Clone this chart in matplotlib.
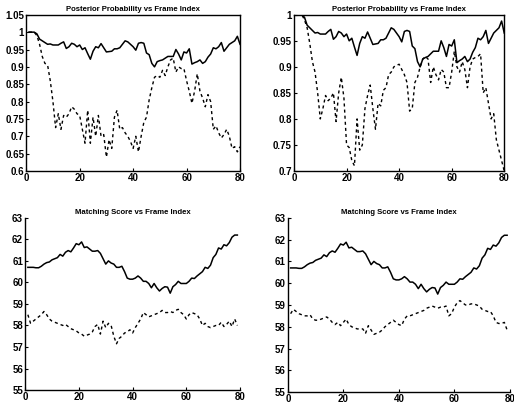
import numpy as np
import matplotlib.pyplot as plt
from matplotlib.ticker import FormatStrFormatter

plt.rcParams['font.family'] = ['Liberation Sans', 'DejaVu Sans']

frames_top = np.arange(1, 81)
frames_bottom = np.arange(1, 80)

post_solid = [1.0, 1.0, 1.0, 0.995, 0.98, 0.975, 0.97, 0.965, 0.966, 0.963,
              0.963, 0.963, 0.968, 0.972, 0.953, 0.958, 0.968, 0.965, 0.958, 0.963,
              0.95, 0.955, 0.938, 0.922, 0.945, 0.958, 0.955, 0.967, 0.955, 0.943,
              0.944, 0.945, 0.952, 0.952, 0.955, 0.965, 0.975, 0.972, 0.965, 0.958,
              0.948, 0.968, 0.97, 0.968, 0.94, 0.935, 0.91, 0.9, 0.915, 0.918,
              0.92, 0.925, 0.93, 0.93, 0.93, 0.95, 0.937, 0.92, 0.943, 0.94,
              0.952, 0.908, 0.912, 0.915, 0.92, 0.91, 0.915, 0.928, 0.937, 0.955,
              0.952, 0.958, 0.97, 0.945, 0.955, 0.965, 0.97, 0.975, 0.988, 0.965]

post_dash_left = [1.0, 1.0, 1.0, 0.99, 0.965, 0.93, 0.91, 0.905, 0.86, 0.8,
                  0.725, 0.765, 0.72, 0.76, 0.755, 0.765, 0.785, 0.778, 0.765, 0.76,
                  0.72, 0.68, 0.775, 0.68, 0.755, 0.7, 0.76, 0.7, 0.705, 0.64,
                  0.69, 0.665, 0.755, 0.775, 0.72, 0.725, 0.71, 0.7, 0.685, 0.665,
                  0.7, 0.655, 0.7, 0.74, 0.755, 0.805, 0.84, 0.87, 0.875, 0.87,
                  0.89, 0.875, 0.9, 0.92, 0.925, 0.885, 0.9, 0.895, 0.895, 0.86,
                  0.83, 0.795, 0.83, 0.88, 0.83, 0.81, 0.785, 0.82, 0.8, 0.72,
                  0.73, 0.71, 0.695, 0.705, 0.72, 0.7, 0.665, 0.67, 0.655, 0.67]

post_dash_right = [1.0, 1.0, 1.0, 0.99, 0.975, 0.945, 0.91, 0.89, 0.85, 0.8,
                   0.82, 0.845, 0.835, 0.84, 0.85, 0.795, 0.85, 0.88, 0.84, 0.75,
                   0.745, 0.72, 0.71, 0.8, 0.74, 0.75, 0.82, 0.845, 0.865, 0.82,
                   0.78, 0.83, 0.825, 0.855, 0.86, 0.885, 0.89, 0.9, 0.903, 0.905,
                   0.895, 0.885, 0.87, 0.815, 0.82, 0.87, 0.88, 0.9, 0.915, 0.92,
                   0.915, 0.87, 0.9, 0.885, 0.875, 0.895, 0.89, 0.86, 0.86, 0.89,
                   0.93, 0.9, 0.89, 0.91, 0.895, 0.86, 0.9, 0.915, 0.918, 0.92,
                   0.925, 0.85, 0.86, 0.83, 0.8, 0.81, 0.76, 0.74, 0.72, 0.7]

score_solid = [60.7, 60.7, 60.7, 60.68, 60.68, 60.75, 60.85, 60.92, 60.95, 61.05,
               61.1, 61.15, 61.3, 61.22, 61.4, 61.48, 61.42, 61.6, 61.8, 61.75,
               61.88, 61.62, 61.65, 61.55, 61.45, 61.45, 61.48, 61.35, 61.1, 60.85,
               61.0, 60.9, 60.85, 60.7, 60.7, 60.75, 60.5, 60.2, 60.15, 60.15,
               60.2, 60.3, 60.2, 60.05, 60.05, 59.95, 59.75, 59.95, 59.75, 59.6,
               59.72, 59.8, 59.78, 59.5, 59.8, 59.9, 60.05, 59.95, 59.95, 59.95,
               60.05, 60.2, 60.18, 60.3, 60.4, 60.5, 60.7, 60.65, 60.8, 61.15,
               61.3, 61.6, 61.55, 61.75, 61.7, 61.85, 62.1, 62.2, 62.2]

score_dash_left = [58.5, 58.1, 58.2, 58.3, 58.4, 58.5, 58.65, 58.5, 58.3, 58.2,
                   58.15, 58.1, 58.05, 58.0, 58.05, 57.95, 57.85, 57.8, 57.75, 57.65,
                   57.6, 57.5, 57.55, 57.6, 57.7, 57.95, 58.05, 57.6, 58.2, 57.9,
                   58.1, 58.0, 57.5, 57.15, 57.4, 57.5, 57.65, 57.7, 57.8, 57.65,
                   57.9, 58.1, 58.3, 58.6, 58.5, 58.4, 58.45, 58.5, 58.55, 58.6,
                   58.7, 58.6, 58.6, 58.65, 58.6, 58.7, 58.75, 58.6, 58.5, 58.3,
                   58.5, 58.6, 58.55, 58.5, 58.3, 58.0, 58.1, 57.95, 57.9, 57.95,
                   58.0, 58.0, 58.15, 57.95, 58.05, 58.2, 57.95, 58.3, 58.0]

score_dash_right = [58.6, 58.8, 58.7, 58.6, 58.55, 58.5, 58.5, 58.55, 58.35, 58.3,
                    58.3, 58.35, 58.4, 58.45, 58.35, 58.2, 58.1, 58.2, 58.05, 58.2,
                    58.35, 58.1, 58.0, 57.95, 57.9, 57.9, 57.9, 57.7, 58.05, 57.85,
                    57.65, 57.7, 57.75, 57.85, 58.0, 58.1, 58.2, 58.3, 58.2, 58.1,
                    58.05, 58.35, 58.5, 58.5, 58.55, 58.6, 58.65, 58.7, 58.75, 58.85,
                    58.9, 58.95, 58.9, 58.85, 58.9, 58.9, 58.95, 58.5, 58.6, 58.9,
                    59.1, 59.2, 59.1, 59.0, 59.0, 59.05, 59.05, 59.0, 58.95, 58.8,
                    58.75, 58.7, 58.7, 58.5, 58.2, 58.15, 58.15, 58.2, 57.85]

post_title = 'Posterior Probability vs Frame Index'
score_title = 'Matching Score vs Frame Index'

fig = plt.figure(figsize=(5.14, 4.11), dpi=100)
ax_tl = fig.add_axes([0.051, 0.584, 0.416, 0.38])
ax_tr = fig.add_axes([0.572, 0.584, 0.409, 0.38])
ax_bl = fig.add_axes([0.049, 0.051, 0.418, 0.419])
ax_br = fig.add_axes([0.560, 0.046, 0.432, 0.424])

dash = (0, (2.2, 2.2))


def style(ax, title, ylim, yticks, fmt, box=True):
    ax.set_xlim(0, 80)
    ax.set_ylim(*ylim)
    ax.set_xticks([0, 20, 40, 60, 80])
    ax.set_yticks(yticks)
    ax.yaxis.set_major_formatter(FormatStrFormatter(fmt))
    ax.tick_params(direction='in', length=2.5, width=0.8, labelsize=7, pad=1.5)
    for lab in ax.get_xticklabels() + ax.get_yticklabels():
        lab.set_fontweight('bold')
    ax.set_title(title, fontsize=5.6, fontweight='bold', pad=3)
    for s in ax.spines.values():
        s.set_linewidth(1.0)
    if not box:
        ax.spines['top'].set_visible(False)
        ax.spines['right'].set_visible(False)


ax_tl.plot(frames_top, post_solid, color='black', lw=1.1)
ax_tl.plot(frames_top, post_dash_left, color='black', lw=1.0, linestyle=dash)
style(ax_tl, post_title, (0.6, 1.05), np.arange(0.6, 1.051, 0.05), '%g')

ax_tr.plot(frames_top, post_solid, color='black', lw=1.1)
ax_tr.plot(frames_top, post_dash_right, color='black', lw=1.0, linestyle=dash)
style(ax_tr, post_title, (0.7, 1.0), np.arange(0.7, 1.001, 0.05), '%g')

ax_bl.plot(frames_bottom, score_solid, color='black', lw=1.1)
ax_bl.plot(frames_bottom, score_dash_left, color='black', lw=1.0, linestyle=dash)
style(ax_bl, score_title, (55, 63), np.arange(55, 64), '%d', box=False)

ax_br.plot(frames_bottom, score_solid, color='black', lw=1.1)
ax_br.plot(frames_bottom, score_dash_right, color='black', lw=1.0, linestyle=dash)
style(ax_br, score_title, (55, 63), np.arange(55, 64), '%d', box=False)

fig.savefig('out.png', dpi=100)
